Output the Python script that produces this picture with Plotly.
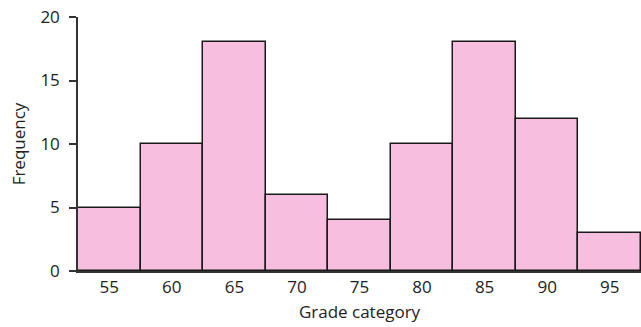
import plotly.graph_objects as go

categories = [55, 60, 65, 70, 75, 80, 85, 90, 95]
frequency = [5, 10, 18, 6, 4, 10, 18, 12, 3]
y_ticks = [0, 5, 10, 15, 20]

fig = go.Figure(go.Bar(
    x=categories, y=frequency, width=5,
    marker=dict(color="#F8BEDF", line=dict(color="#1a1a1a", width=1.5)),
))

font = "'Open Sans', sans-serif"
fig.update_layout(
    width=641, height=327,
    margin=dict(l=78, r=0, t=17, b=56),
    plot_bgcolor="white", paper_bgcolor="white",
    showlegend=False, bargap=0,
    font=dict(family=font, size=17, color="#222"),
)
fig.update_xaxes(
    range=[52.5, 97.5], tickvals=categories, showgrid=False, zeroline=False,
    showline=True, linecolor="#333", linewidth=1.5, automargin=False,
    ticks="", ticklabelstandoff=0,
    title=dict(text="Grade category", font=dict(size=17), standoff=9),
)
fig.update_yaxes(
    range=[0, 20], tickvals=y_ticks, showgrid=False, zeroline=False,
    showline=True, linecolor="#333", linewidth=1.5, automargin=False,
    ticks="outside", ticklen=7, tickcolor="#333", tickwidth=1.5,
    ticklabelstandoff=6,
    title=dict(text="Frequency", font=dict(size=17), standoff=10),
)
fig.write_html("out.html", config={"displayModeBar": False},
               post_script="document.body.style.margin='0';")
